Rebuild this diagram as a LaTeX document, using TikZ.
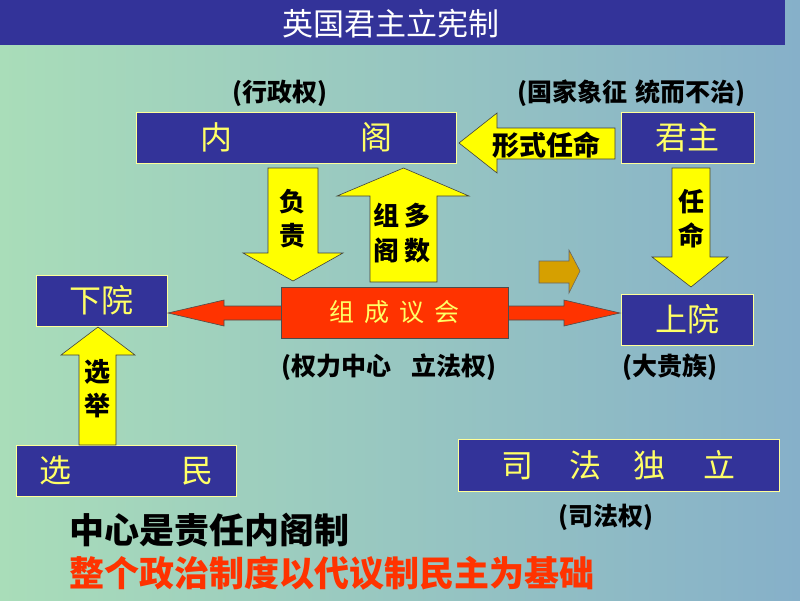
\documentclass[tikz,border=0pt]{standalone}
\usepackage{fontspec}
\newfontfamily\cjk{Noto Sans CJK SC}
\definecolor{bgL}{HTML}{A9DDB9}
\definecolor{bgM}{HTML}{9CD0BF}
\definecolor{bgR}{HTML}{86B0C9}
\definecolor{boxblue}{HTML}{333399}
\definecolor{boxline}{HTML}{FFFF99}
\definecolor{boxtext}{HTML}{FFFF66}
\definecolor{ayellow}{HTML}{FFFF00}
\definecolor{redbox}{HTML}{FF3300}
\definecolor{brownarr}{HTML}{D6A000}
\tikzset{
  box/.style={draw=boxline, line width=0.8pt, fill=boxblue, text=boxtext, inner sep=0pt,
              font=\cjk\fontsize{32}{32}\selectfont},
  yarrow/.style={fill=ayellow, draw=black!75, line width=0.6pt},
  lbl/.style={inner sep=0pt, font=\cjk\bfseries\fontsize{25}{25}\selectfont},
  atxt/.style={inner sep=0pt, align=center, font=\cjk\bfseries\fontsize{26}{34}\selectfont},
  bigtxt/.style={inner sep=0pt, anchor=west, font=\cjk\bfseries\fontsize{35}{35}\selectfont}
}
\begin{document}
\begin{tikzpicture}[x=1pt,y=-1pt]
\useasboundingbox (0,0) rectangle (800,600);
\shade[left color=bgL, middle color=bgM, right color=bgR] (0,0) rectangle (800,600);
\fill[boxblue] (0,0) rectangle (785,45);
\node[inner sep=0pt, text=white, font=\cjk\fontsize{31}{31}\selectfont] (title) at (391,24) {英国君主立宪制};

% boxes
\node[box, minimum width=320pt, minimum height=51pt] (neige) at (296,137.5) {内\hspace{128pt}阁};
\node[box, minimum width=133pt, minimum height=51pt] (junzhu) at (687.5,137.5) {君主};
\node[box, minimum width=131pt, minimum height=51pt] (xiayuan) at (101.5,300.5) {下院};
\node[box, minimum width=132pt, minimum height=51pt] (shangyuan) at (687,319.5) {上院};
\node[box, minimum width=220pt, minimum height=51pt] (xuanmin) at (126,470.5) {选\hspace{110pt}民};
\node[box, minimum width=321pt, minimum height=52pt] (sifa) at (618.5,465) {司\hspace{36pt}法\hspace{32pt}独\hspace{38pt}立};

% red double arrow and box
\draw[fill=redbox, draw=black!70, line width=0.6pt]
  (168,313) -- (224,300) -- (224,306) -- (564,306) -- (564,300) -- (620,313)
  -- (564,326) -- (564,320) -- (224,320) -- (224,326) -- cycle;
\node[draw=black!70, line width=0.6pt, fill=redbox, minimum width=227pt, minimum height=51pt,
      inner sep=0pt, text=boxtext, font=\cjk\fontsize{25}{25}\selectfont] (yihui) at (394.5,312.5)
      {组\hspace{10pt}成\hspace{10pt}议\hspace{10pt}会};

% yellow block arrows
\draw[yarrow] (459,143) -- (497,113) -- (497,128) -- (615,128) -- (615,159) -- (497,159) -- (497,173) -- cycle;
\node[atxt, font=\cjk\bfseries\fontsize{27}{27}\selectfont] (xingshi) at (546,145) {形式任命};

\draw[yarrow] (268,168) -- (318,168) -- (318,253) -- (343,253) -- (293,281) -- (243,253) -- (268,253) -- cycle;
\node[atxt] (fuze) at (292,219) {负\\责};

\draw[yarrow] (370,282) -- (370,196) -- (337,196) -- (403.5,168) -- (469,196) -- (437,196) -- (437,282) -- cycle;
\node[atxt, font=\cjk\bfseries\fontsize{26}{35}\selectfont] (zuge) at (402,233) {组\hspace{6pt}多\\阁\hspace{6pt}数};

\draw[yarrow] (672,168) -- (710,168) -- (710,257) -- (728,257) -- (691,287) -- (652,257) -- (672,257) -- cycle;
\node[atxt] (renming) at (691,219) {任\\命};

\draw[yarrow] (79,445) -- (79,355) -- (61,355) -- (98,327) -- (135,355) -- (116,355) -- (116,445) -- cycle;
\node[atxt] (xuanju) at (97,389) {选\\举};

% brown arrow
\draw[fill=brownarr, draw=black!60, line width=0.6pt]
  (539,261) -- (569,261) -- (569,250) -- (580,271) -- (569,293) -- (569,283) -- (539,283) -- cycle;

% labels
\node[lbl] (l1) at (280,93) {(行政权)};
\node[lbl] (l2) at (631,93) {(国家象征\hspace{8pt}统而不治)};
\node[lbl] (l3) at (389,367) {(权力中心\hspace{20pt}立法权)};
\node[lbl] (l4) at (670,367) {(大贵族)};
\node[lbl] (l5) at (606,517) {(司法权)};

\node[bigtxt] (c1) at (69,530) {中心是责任内阁制};
\node[bigtxt, text=redbox] (c2) at (69,573) {整个政治制度以代议制民主为基础};
\end{tikzpicture}
\end{document}
